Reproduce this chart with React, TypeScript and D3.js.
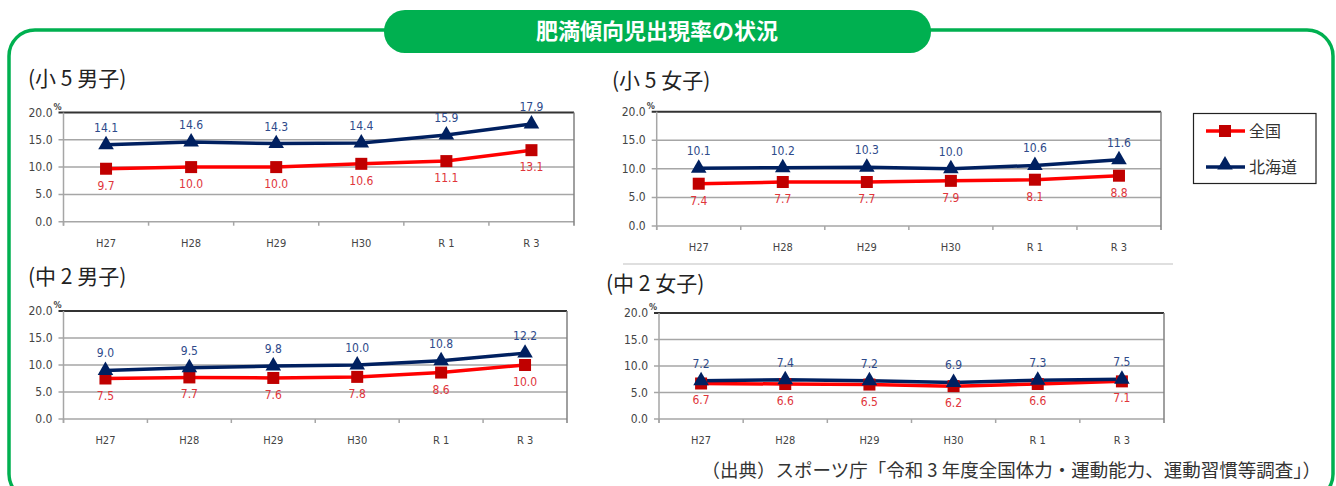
import * as d3 from "d3";

const categories = ["H27", "H28", "H29", "H30", "R 1", "R 3"];
const yTicks = [0, 5, 10, 15, 20];

const boys5National = [9.7, 10.0, 10.0, 10.6, 11.1, 13.1];
const boys5Hokkaido = [14.1, 14.6, 14.3, 14.4, 15.9, 17.9];
const girls5National = [7.4, 7.7, 7.7, 7.9, 8.1, 8.8];
const girls5Hokkaido = [10.1, 10.2, 10.3, 10.0, 10.6, 11.6];
const boys2National = [7.5, 7.7, 7.6, 7.8, 8.6, 10.0];
const boys2Hokkaido = [9.0, 9.5, 9.8, 10.0, 10.8, 12.2];
const girls2National = [6.7, 6.6, 6.5, 6.2, 6.6, 7.1];
const girls2Hokkaido = [7.2, 7.4, 7.2, 6.9, 7.3, 7.5];

const GREEN = "#00B050";
const RED = "#FF0000";
const RED_MARK = "#C00000";
const NAVY = "#002060";
const RED_TEXT = "#E0353B";
const BLUE_TEXT = "#2E4A8A";
const JP = "'Noto Sans CJK JP', 'Noto Sans', sans-serif";
const NARROW = "'Liberation Sans Narrow', 'DejaVu Sans Condensed', 'Roboto', sans-serif";

type PanelProps = {
  title: string;
  titleX: number;
  titleY: number;
  left: number;
  right: number;
  top: number;
  bottom: number;
  national: number[];
  hokkaido: number[];
  separator?: [number, number, number];
};

const triangle = d3.symbol().type(d3.symbolTriangle).size(105)() || "";

const Panel = (p: PanelProps) => {
  const x = d3.scaleBand().domain(categories).range([p.left, p.right]);
  const y = d3.scaleLinear().domain([0, 20]).range([p.bottom, p.top]);
  const cx = (i: number) => (x(categories[i]) || 0) + x.bandwidth() / 2;
  const line = d3
    .line<number>()
    .x((_, i) => cx(i))
    .y((d) => y(d));

  return (
    <g>
      <text x={p.titleX} y={p.titleY} fontFamily={JP} fontSize={21} fill="#222">
        {p.title}
      </text>
      {yTicks.map((t) => (
        <g key={t}>
          <line
            x1={p.left - 5}
            x2={p.right}
            y1={y(t)}
            y2={y(t)}
            stroke={t === 20 ? "#333" : "#A6A6A6"}
            strokeWidth={t === 20 ? 2 : 1.5}
          />
          <text x={p.left - 11} y={y(t) + 4} textAnchor="end" fontFamily={NARROW} fontSize={12} fill="#444">
            {t.toFixed(1)}
          </text>
        </g>
      ))}
      <text x={p.left - 10} y={y(20) - 3} fontFamily={NARROW} fontSize={9} fontWeight="bold" fill="#444">
        %
      </text>
      <line x1={p.left} x2={p.left} y1={p.top} y2={p.bottom + 4} stroke="#A6A6A6" strokeWidth={1.5} />
      <line x1={p.right} x2={p.right} y1={p.top} y2={p.bottom + 4} stroke="#808080" strokeWidth={1.5} />
      {categories.map((c, i) => (
        <g key={c}>
          <line x1={x(c)} x2={x(c)} y1={p.bottom} y2={p.bottom + 4} stroke="#A6A6A6" strokeWidth={1.5} />
          <text x={cx(i)} y={p.bottom + 25} textAnchor="middle" fontFamily={NARROW} fontSize={11} fill="#444">
            {c}
          </text>
        </g>
      ))}
      <path d={line(p.national) || ""} fill="none" stroke={RED} strokeWidth={3.5} />
      <path d={line(p.hokkaido) || ""} fill="none" stroke={NAVY} strokeWidth={3.5} />
      {p.national.map((v, i) => (
        <g key={"n" + i}>
          <rect x={cx(i) - 6} y={y(v) - 6} width={12} height={12} fill={RED_MARK} />
          <text x={cx(i)} y={y(v) + 21} textAnchor="middle" fontFamily={NARROW} fontSize={12} fill={RED_TEXT}>
            {v.toFixed(1)}
          </text>
        </g>
      ))}
      {p.hokkaido.map((v, i) => (
        <g key={"h" + i}>
          <path d={triangle} transform={`translate(${cx(i)},${y(v)})`} fill={NAVY} />
          <text x={cx(i)} y={y(v) - 13} textAnchor="middle" fontFamily={NARROW} fontSize={12} fill={BLUE_TEXT}>
            {v.toFixed(1)}
          </text>
        </g>
      ))}
      {p.separator && (
        <line
          x1={p.separator[0]}
          x2={p.separator[1]}
          y1={p.separator[2]}
          y2={p.separator[2]}
          stroke="#BFBFBF"
          strokeWidth={1}
        />
      )}
    </g>
  );
};

const panels: PanelProps[] = [
  { title: "(小 5 男子)", titleX: 28, titleY: 86, left: 63.5, right: 574, top: 112.5, bottom: 221.7, national: boys5National, hokkaido: boys5Hokkaido },
  { title: "(小 5 女子)", titleX: 612, titleY: 88, left: 656.7, right: 1161, top: 111.7, bottom: 226, national: girls5National, hokkaido: girls5Hokkaido, separator: [623, 1173, 264] },
  { title: "(中 2 男子)", titleX: 28, titleY: 284, left: 63.5, right: 567, top: 311, bottom: 419, national: boys2National, hokkaido: boys2Hokkaido },
  { title: "(中 2 女子)", titleX: 606, titleY: 291, left: 659, right: 1164, top: 313, bottom: 419, national: girls2National, hokkaido: girls2Hokkaido },
];

const App = () => {
  return (
    <div style={{ position: "absolute", left: 0, top: 0 }}>
      <svg width={1336} height={486} style={{ display: "block", background: "#fff" }}>
        <rect x={9} y={30} width={1324} height={470} rx={26} ry={26} fill="none" stroke={GREEN} strokeWidth={3.5} />
        <rect x={384} y={10} width={547} height={43} rx={21} ry={21} fill={GREEN} />
        <text x={657} y={39} textAnchor="middle" fontFamily={JP} fontWeight="bold" fontSize={22} fill="#fff">
          肥満傾向児出現率の状況
        </text>
        {panels.map((p) => (
          <Panel key={p.title} {...p} />
        ))}
        <g>
          <rect x={1193.5} y={113.5} width={122.5} height={70} fill="#fff" stroke="#222" strokeWidth={1.2} />
          <line x1={1206} x2={1245} y1={131} y2={131} stroke={RED} strokeWidth={3.5} />
          <rect x={1219} y={125} width={12} height={12} fill={RED_MARK} />
          <text x={1249} y={137} fontFamily={JP} fontSize={16} fill="#333">全国</text>
          <line x1={1206} x2={1245} y1={167} y2={167} stroke={NAVY} strokeWidth={3.5} />
          <path d={triangle} transform="translate(1225,165)" fill={NAVY} />
          <text x={1249} y={173} fontFamily={JP} fontSize={16} fill="#333">北海道</text>
        </g>
        <text x={1321} y={477} textAnchor="end" fontFamily={JP} fontSize={18.5} fill="#333">
          （出典）スポーツ庁「令和 3 年度全国体力・運動能力、運動習慣等調査」）
        </text>
      </svg>
    </div>
  );
};

export default App;
